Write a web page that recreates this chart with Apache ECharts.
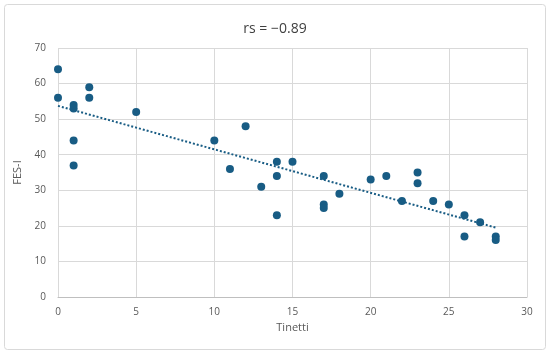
<!DOCTYPE html>
<html><head><meta charset="utf-8">
<script src="https://cdn.jsdelivr.net/npm/echarts@6/dist/echarts.min.js"></script>
<style>html,body{margin:0;padding:0;background:#fff}#c{width:550px;height:354px}</style>
</head><body><div id="c"></div>
<script>
const tinetti = [0,0,1,1,1,1,2,2,5,10,11,12,13,14,14,14,15,17,17,17,18,20,21,22,23,23,24,25,26,26,27,28,28];
const fesi    = [64,56,54,53,44,37,59,56,52,44,36,48,31,38,34,23,38,34,26,25,29,33,34,27,35,32,27,26,23,17,21,17,16];
const xTicks = [0,5,10,15,20,25,30];
const yTicks = [0,10,20,30,40,50,60,70];
const titleText = 'rs = \u22120.89';

const pts = tinetti.map((x,i)=>[x,fesi[i]]);
// least squares trend line
const n = pts.length;
let sx=0,sy=0,sxx=0,sxy=0;
pts.forEach(([x,y])=>{sx+=x;sy+=y;sxx+=x*x;sxy+=x*y;});
const b = (n*sxy - sx*sy)/(n*sxx - sx*sx);
const a = (sy - b*sx)/n;
const xmin = Math.min(...tinetti), xmax = Math.max(...tinetti);
const trend = [[xmin, a+b*xmin],[xmax, a+b*xmax]];

const col = '#185c84';
const chart = echarts.init(document.getElementById('c'));
chart.setOption({
  animation:false,
  backgroundColor:'#fff',
  graphic:[{type:'rect',shape:{x:4.5,y:4.5,width:541,height:345,r:3},style:{fill:'none',stroke:'#d9d9d9',lineWidth:1}}],
  title:{text:titleText,left:'center',top:17,textStyle:{fontFamily:'Open Sans',fontSize:14,fontWeight:'normal',color:'#404040'}},
  grid:{left:58,right:23,top:48,bottom:57},
  xAxis:{type:'value',min:0,max:30,interval:5,name:'Tinetti',nameLocation:'middle',nameGap:22,
    nameTextStyle:{fontFamily:'Open Sans',fontSize:11,color:'#595959'},
    axisLine:{show:true,lineStyle:{color:'#bfbfbf'}},axisTick:{show:false},
    axisLabel:{fontFamily:'Open Sans',fontSize:10,color:'#595959',margin:10},
    splitLine:{show:true,lineStyle:{color:'#d9d9d9',width:1}}},
  yAxis:{type:'value',min:0,max:70,interval:10,name:'FES-I',nameLocation:'middle',nameGap:30,
    nameTextStyle:{fontFamily:'Open Sans',fontSize:11,color:'#595959'},
    axisLine:{show:false},axisTick:{show:false},
    axisLabel:{fontFamily:'Open Sans',fontSize:10,color:'#595959',margin:12},
    splitLine:{show:true,lineStyle:{color:'#d9d9d9',width:1}}},
  series:[
    {type:'line',data:trend,showSymbol:false,symbol:'none',lineStyle:{color:col,width:2,type:[2,2]},z:1},
    {type:'scatter',data:pts,symbolSize:8,itemStyle:{color:col,opacity:1},z:2}
  ]
});
</script></body></html>
